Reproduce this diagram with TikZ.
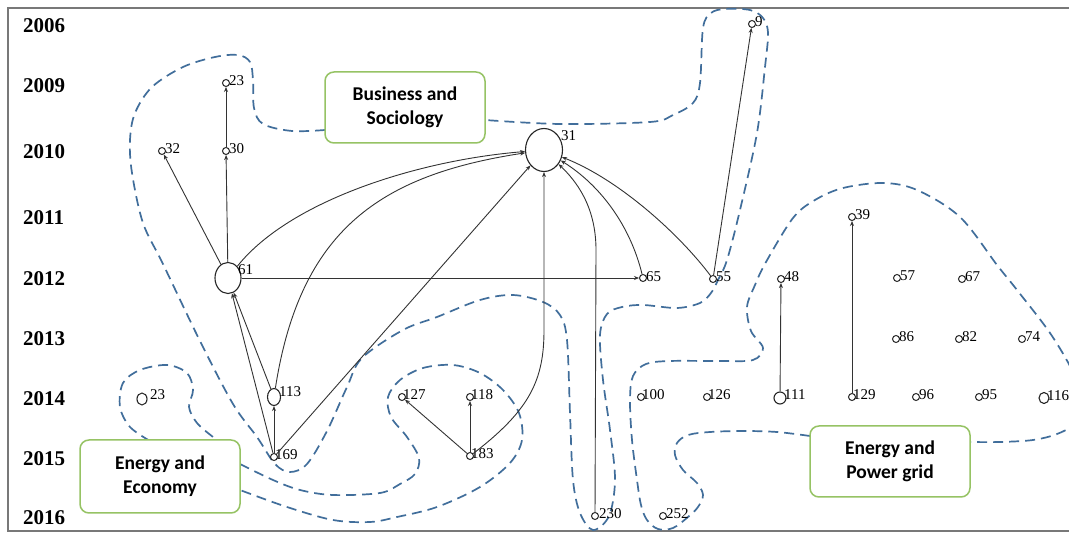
\documentclass[tikz,border=0pt]{standalone}
\usepackage{fontspec}
\setmainfont{Liberation Serif}
\newfontfamily\boxfont{Carlito}
\usetikzlibrary{arrows.meta,shapes.geometric}
\definecolor{regblue}{RGB}{65,110,155}
\definecolor{boxgreen}{RGB}{150,195,100}
\definecolor{framegray}{RGB}{120,120,120}
\begin{document}
\begin{tikzpicture}[x=1pt,y=-1pt,
  pnode/.style={circle,draw=black!85,line width=1pt,fill=white,minimum size=7pt,inner sep=0pt},
  bignode/.style={ellipse,draw=black!85,line width=1.1pt,fill=white,inner sep=0pt},
  lab/.style={font=\fontsize{15}{15}\selectfont,inner sep=0pt,anchor=west},
  yearlab/.style={font=\bfseries\fontsize{21}{21}\selectfont,inner sep=0pt,anchor=west},
  edge/.style={draw=black!80,line width=0.9pt,-{Stealth[length=5pt,width=4pt]}},
  region/.style={draw=regblue,line width=1.7pt,dash pattern=on 10pt off 6pt},
  catbox/.style={draw=boxgreen,line width=1.5pt,rounded corners=9pt,fill=white,minimum width=160pt,minimum height=71pt,align=center,inner sep=0pt,font=\boxfont\bfseries\fontsize{19.5}{24}\selectfont}]
\useasboundingbox (0,0) rectangle (1069,534);
\clip (0,0) rectangle (1069,534);
\fill[white] (0,0) rectangle (1069,534);
% frame
\draw[framegray,line width=1.5pt] (1080,8) -- (8,8) -- (8,531) -- (1080,531);
% years
\node[yearlab] (y2006) at (23,26) {2006};
\node[yearlab] (y2009) at (23,86) {2009};
\node[yearlab] (y2010) at (23,152) {2010};
\node[yearlab] (y2011) at (23,218) {2011};
\node[yearlab] (y2012) at (23,279) {2012};
\node[yearlab] (y2013) at (23,339) {2013};
\node[yearlab] (y2014) at (23,399) {2014};
\node[yearlab] (y2015) at (23,459) {2015};
\node[yearlab] (y2016) at (23,518) {2016};
% regions
\draw[region] plot[smooth,tension=0.55] coordinates {(325,130) (292,131) (263,124) (254,108) (253,80) (250,62) (238,55) (215,57) (183,67) (152,87) (135,113) (130,140) (132,173) (143,223) (163,264) (200,341) (233,404) (257,437) (275,464) (290,472) (307,464) (327,431) (347,387) (362,358) (403,330) (437,317) (480,300) (513,295) (543,302) (560,315) (567,340) (570,413) (573,480) (580,513) (593,530) (609,516) (615,480) (610,430) (603,380) (600,335) (607,314) (622,307) (643,305) (677,308) (700,303) (711,293) (718,280) (727,260) (740,210) (757,133) (765,67) (768,33) (763,18) (750,10) (725,9) (711,13) (703,28) (700,83) (693,103) (673,115) (650,122) (560,124) (485,120)};
\draw[region] plot[smooth,tension=0.55] coordinates {(150,441) (130,427) (120,407) (123,383) (140,370) (167,365) (187,373) (193,390) (189,407) (197,423) (213,437) (219,441)};
\draw[region] plot[smooth,tension=0.55] coordinates {(240,464) (273,480) (300,490) (333,495) (380,493) (400,484) (415,474) (419,458) (407,437) (391,417) (388,397) (400,380) (423,368) (453,365) (480,373) (503,390) (519,413) (522,440) (510,463) (480,487) (437,507) (397,517) (370,522) (333,520) (287,507) (240,490)};
\draw[region] plot[smooth,tension=0.55] coordinates {(810,436) (777,432) (743,431) (710,432) (688,435) (677,443) (675,455) (683,470) (697,483) (703,495) (698,507) (688,517) (673,528) (658,529) (647,520) (641,505) (637,480) (632,440) (630,400) (633,376) (646,364) (670,361) (720,361) (753,360) (763,348) (751,331) (747,307) (755,285) (766,262) (793,218) (815,200) (843,188) (883,183) (917,190) (960,217) (997,265) (1017,290) (1050,333) (1073,372) (1082,400) (1073,424) (1057,434) (1033,440) (1000,442) (970,442)};
% boxes
\node[catbox] (bus) at (405,107.5) {Business and\\Sociology};
\node[catbox,minimum height=73pt] (eco) at (160,476.5) {Energy and\\Economy};
\node[catbox] (pow) at (890,461.5) {Energy and\\Power grid};
% nodes
\node[pnode] (n23) at (226,83) {};
\node[pnode] (n30) at (226,151) {};
\node[pnode] (n32) at (162,151) {};
\node[pnode] (n9) at (752,24) {};
\node[bignode,minimum width=37pt,minimum height=43pt] (n31) at (544,150) {};
\node[bignode,minimum width=26pt,minimum height=31pt] (n61) at (228,278) {};
\node[pnode] (n65) at (643,278) {};
\node[pnode] (n55) at (713,279) {};
\node[pnode] (n39) at (852,217) {};
\node[pnode] (n48) at (781,279) {};
\node[pnode] (n57) at (897,278) {};
\node[pnode] (n67) at (962,279) {};
\node[pnode] (n86) at (896,339) {};
\node[pnode] (n82) at (959,339) {};
\node[pnode] (n74) at (1022,339) {};
\node[bignode,minimum width=10pt,minimum height=12pt] (n123) at (142,399) {};
\node[bignode,minimum width=13pt,minimum height=17pt] (n113) at (274,397) {};
\node[pnode] (n169) at (274,457) {};
\node[pnode] (n127) at (402,397) {};
\node[pnode] (n118) at (470,397) {};
\node[pnode] (n183) at (470,456) {};
\node[pnode] (n230) at (595,516) {};
\node[pnode] (n252) at (663,516) {};
\node[pnode] (n100) at (641,397) {};
\node[pnode] (n126) at (707,397) {};
\node[bignode,minimum width=12pt,minimum height=12pt] (n111) at (780,398) {};
\node[pnode] (n129) at (852,397) {};
\node[pnode] (n96) at (916,397) {};
\node[pnode] (n95) at (979,397) {};
\node[bignode,minimum width=10pt,minimum height=11pt] (n116) at (1044,398) {};
% labels
\node[lab] (l23) at (229,81) {23};
\node[lab] (l30) at (229,149) {30};
\node[lab] (l32) at (165,149) {32};
\node[lab] (l9) at (755,22) {9};
\node[lab] (l31) at (561,136) {31};
\node[lab] (l61) at (238,270) {61};
\node[lab] (l65) at (646,277) {65};
\node[lab] (l55) at (716,277) {55};
\node[lab] (l39) at (855,215) {39};
\node[lab] (l48) at (784,277) {48};
\node[lab] (l57) at (900,276) {57};
\node[lab] (l67) at (965,277) {67};
\node[lab] (l86) at (899,337) {86};
\node[lab] (l82) at (962,337) {82};
\node[lab] (l74) at (1025,337) {74};
\node[lab] (l123) at (150,395) {23};
\node[lab] (l113) at (279,392) {113};
\node[lab] (l169) at (275,455) {169};
\node[lab] (l127) at (403,395) {127};
\node[lab] (l118) at (471,395) {118};
\node[lab] (l183) at (471,454) {183};
\node[lab] (l230) at (599,514) {230};
\node[lab] (l252) at (666,514) {252};
\node[lab] (l100) at (642,395) {100};
\node[lab] (l126) at (708,395) {126};
\node[lab] (l111) at (784,395) {111};
\node[lab] (l129) at (853,395) {129};
\node[lab] (l96) at (919,395) {96};
\node[lab] (l95) at (982,395) {95};
\node[lab] (l116) at (1047,396) {116};
% helper coordinates
\coordinate (c183) at (544,330);
\coordinate (c230) at (596,250);
% edges
\draw[edge] (n30) -- (n23);
\draw[edge] (n61) -- (n30);
\draw[edge] (n61) -- (n32);
\draw[edge] (n61) .. controls (290,200) and (420,160) .. (n31);
\draw[edge] (n61) -- (n65);
\draw[edge] (n113) -- (n61);
\draw[edge] (n169) -- (n61);
\draw[edge] (n169) -- (n113);
\draw[edge] (n113) .. controls (300,230) and (380,175) .. (n31);
\draw[edge] (n169) -- (n31);
\draw[edge] (n183) .. controls (530,410) and (544,380) .. (c183) -- (n31);
\draw[edge] (n230) -- (c230) .. controls (596,205) and (575,180) .. (n31);
\draw[edge] (n65) .. controls (630,225) and (600,185) .. (n31);
\draw[edge] (n55) .. controls (680,235) and (620,180) .. (n31);
\draw[edge] (n55) -- (n9);
\draw[edge] (n111) -- (n48);
\draw[edge] (n129) -- (n39);
\draw[edge] (n183) -- (n127);
\draw[edge] (n183) -- (n118);
\end{tikzpicture}
\end{document}
